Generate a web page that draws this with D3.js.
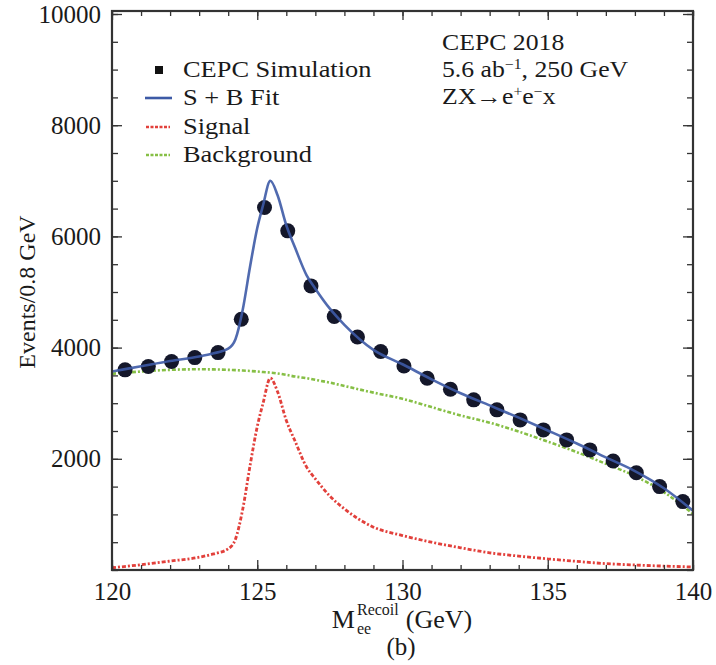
<!DOCTYPE html>
<html>
<head>
<meta charset="utf-8">
<script src="https://cdn.jsdelivr.net/npm/d3@7"></script>
<style>
  body { margin: 0; background: #fff; }
  svg text { font-family: "Liberation Serif", "Times New Roman", Times, serif; fill: #1a1a1a; }
</style>
</head>
<body>
<div class="chart"></div>
<script>
// simulated points (bin centres, events per 0.8 GeV)
const binCenters = [120.45, 121.25, 122.05, 122.85, 123.65, 124.45, 125.25, 126.05, 126.85, 127.65,
                    128.45, 129.25, 130.05, 130.85, 131.65, 132.45, 133.25, 134.05, 134.85, 135.65,
                    136.45, 137.25, 138.05, 138.85, 139.65];
const events = [3600, 3660, 3750, 3820, 3910, 4510, 6520, 6100, 5110, 4560,
                4190, 3930, 3670, 3450, 3250, 3060, 2880, 2700, 2520, 2340,
                2160, 1960, 1750, 1500, 1230];

// fitted curves
const curveMass = [120, 121, 122, 123, 123.5, 124, 124.25, 124.5, 124.75, 125, 125.2, 125.45, 125.7, 126,
                   126.3, 126.7, 127, 127.5, 128, 129, 130, 131, 132, 133, 134, 135, 136, 137, 138, 139, 140];
const fitCurve = [3570, 3665, 3760, 3840, 3898, 3980, 4150, 4680, 5450, 6150, 6560, 7000, 6740, 6200,
                  5800, 5300, 5060, 4700, 4410, 3960, 3700, 3430, 3180, 2960, 2740, 2510, 2275, 2025, 1780, 1470, 1065];
const signalCurve = [40, 95, 160, 230, 290, 380, 555, 1092, 1870, 2580, 3000, 3450, 3205, 2690,
                     2320, 1850, 1640, 1330, 1100, 770, 620, 500, 400, 310, 250, 200, 155, 115, 90, 70, 55];
const bkgCurve = [3530, 3570, 3600, 3610, 3608, 3600, 3595, 3588, 3580, 3570, 3560, 3550, 3535, 3510,
                  3480, 3450, 3420, 3370, 3310, 3190, 3080, 2930, 2780, 2650, 2490, 2310, 2120, 1910, 1690, 1400, 1010];

const xTicks = [120, 125, 130, 135, 140];
const yTicks = [2000, 4000, 6000, 8000, 10000];
const legendLabels = ["CEPC Simulation", "S + B Fit", "Signal", "Background"];

const W = 716, H = 665;
const plotL = 112, plotR = 693, plotT = 11, plotB = 570;
const serif = '"Liberation Serif", "Times New Roman", Times, serif';

const svg = d3.select(".chart").append("svg")
    .attr("width", W).attr("height", H)
    .attr("font-family", serif);

const xScale = d3.scaleLinear().domain([120, 140]).range([plotL, plotR]);
const yScale = d3.scaleLinear().domain([0, 10000]).range([plotB, 14]);

const plot = svg.append("g");
plot.append("clipPath").attr("id", "clip")
    .append("rect").attr("x", plotL).attr("y", plotT).attr("width", plotR - plotL).attr("height", plotB - plotT);

const line = (ys) => d3.line()
    .x((d, i) => xScale(curveMass[i]))
    .y((d, i) => yScale(ys[i]))
    .curve(d3.curveMonotoneX)(curveMass);

const colors = { fit: "#3d5aa6", sig: "#e2403b", bkg: "#86bf45" };

const curves = plot.append("g").attr("clip-path", "url(#clip)");
curves.append("path").attr("d", line(bkgCurve))
    .attr("fill", "none").attr("stroke", colors.bkg).attr("stroke-width", 2.6)
    .attr("stroke-dasharray", "4,2,2,2");
curves.append("path").attr("d", line(signalCurve))
    .attr("fill", "none").attr("stroke", colors.sig).attr("stroke-width", 2.8)
    .attr("stroke-dasharray", "4,2,2,2");

plot.selectAll("circle.pt")
    .data(binCenters)
    .enter()
    .append("circle")
    .attr("class", "pt")
    .attr("cx", d => xScale(d))
    .attr("cy", (d, i) => yScale(events[i]))
    .attr("r", 7.5)
    .attr("fill", "#14172a");

const fitG = plot.append("g").attr("clip-path", "url(#clip)");
fitG.append("path").attr("d", line(fitCurve))
    .attr("fill", "none").attr("stroke", colors.fit).attr("stroke-width", 2.6)
    .attr("stroke-opacity", 0.9);

// axes (ticks point inward on all four sides)
const xMinor = d3.range(120, 141, 1);
const yMinor = d3.range(0, 10001, 500);

function styleAxis(g) {
    g.select(".domain").remove();
    g.selectAll("line").attr("stroke", "#333").attr("stroke-width", 1.3);
    g.attr("font-family", serif).attr("font-size", null);
}

svg.append("g").attr("transform", `translate(0,${plotB})`)
    .call(d3.axisBottom(xScale).tickValues(xMinor).tickSize(-5).tickFormat("")).call(styleAxis);
svg.append("g").attr("transform", `translate(0,${plotB})`)
    .call(d3.axisBottom(xScale).tickValues(xTicks).tickSize(-10).tickPadding(12).tickFormat(d3.format("d")))
    .call(styleAxis)
    .selectAll("text").attr("font-size", 25).attr("fill", "#1a1a1a");
svg.append("g").attr("transform", `translate(0,${plotT})`)
    .call(d3.axisTop(xScale).tickValues(xMinor).tickSize(-5).tickFormat("")).call(styleAxis);
svg.append("g").attr("transform", `translate(0,${plotT})`)
    .call(d3.axisTop(xScale).tickValues(xTicks).tickSize(-9).tickFormat("")).call(styleAxis);

svg.append("g").attr("transform", `translate(${plotL},0)`)
    .call(d3.axisLeft(yScale).tickValues(yMinor).tickSize(-6).tickFormat("")).call(styleAxis);
svg.append("g").attr("transform", `translate(${plotL},0)`)
    .call(d3.axisLeft(yScale).tickValues(yTicks).tickSize(-10).tickPadding(11).tickFormat(d3.format("d")))
    .call(styleAxis)
    .selectAll("text").attr("font-size", 25).attr("fill", "#1a1a1a");
svg.append("g").attr("transform", `translate(${plotR},0)`)
    .call(d3.axisRight(yScale).tickValues(yMinor).tickSize(-6).tickFormat("")).call(styleAxis);
svg.append("g").attr("transform", `translate(${plotR},0)`)
    .call(d3.axisRight(yScale).tickValues(yTicks).tickSize(-10).tickFormat("")).call(styleAxis);

// frame
svg.append("rect")
    .attr("x", plotL).attr("y", plotT)
    .attr("width", plotR - plotL).attr("height", plotB - plotT)
    .attr("fill", "none").attr("stroke", "#333").attr("stroke-width", 2.2);

// y label
svg.append("text")
    .attr("transform", "translate(35,292) rotate(-90)")
    .attr("text-anchor", "middle")
    .attr("font-size", 24)
    .text("Events/0.8 GeV");

// x label with stacked sub/superscript
const xl = svg.append("g");
const mTxt = xl.append("text").attr("x", 0).attr("y", 628).attr("font-size", 26).text("M");
const mW = mTxt.node().getComputedTextLength();
const sup = xl.append("text").attr("x", mW + 2).attr("y", 615).attr("font-size", 16).text("Recoil");
xl.append("text").attr("x", mW + 2).attr("y", 634).attr("font-size", 16).text("ee");
const supW = sup.node().getComputedTextLength();
const unit = xl.append("text").attr("x", mW + supW + 9).attr("y", 628).attr("font-size", 26).text("(GeV)");
const totalW = mW + supW + 9 + unit.node().getComputedTextLength();
xl.attr("transform", `translate(${402 - totalW / 2},0)`);

svg.append("text")
    .attr("x", 401).attr("y", 655)
    .attr("text-anchor", "middle")
    .attr("font-size", 25)
    .text("(b)");

// legend
const legend = svg.append("g");
const rowY = [70, 98, 127, 155];
legend.append("rect").attr("x", 155).attr("y", rowY[0] - 4).attr("width", 8).attr("height", 8).attr("fill", "#111");
legend.append("line").attr("x1", 145).attr("x2", 172).attr("y1", rowY[1]).attr("y2", rowY[1])
    .attr("stroke", colors.fit).attr("stroke-width", 2.6);
legend.append("line").attr("x1", 146).attr("x2", 170).attr("y1", rowY[2]).attr("y2", rowY[2])
    .attr("stroke", colors.sig).attr("stroke-width", 2.6).attr("stroke-dasharray", "3,1.5");
legend.append("line").attr("x1", 146).attr("x2", 170).attr("y1", rowY[3]).attr("y2", rowY[3])
    .attr("stroke", colors.bkg).attr("stroke-width", 2.6).attr("stroke-dasharray", "3,1.5");
legend.selectAll(".legend-text")
    .data(legendLabels)
    .enter()
    .append("text")
    .attr("class", "legend-text")
    .attr("transform", (d, i) => `translate(183,${rowY[i] + 7}) scale(1.1,1)`)
    .attr("font-size", 24)
    .text(d => d);

// annotation, top right
const note = svg.append("g");
note.append("text").attr("transform", "translate(442,50) scale(1.12,1)")
    .attr("font-size", 23).text("CEPC 2018");
const n2 = note.append("text").attr("transform", "translate(442,77) scale(1.12,1)").attr("font-size", 23);
n2.append("tspan").text("5.6 ab");
n2.append("tspan").attr("dy", -8).attr("font-size", 14).text("\u22121");
n2.append("tspan").attr("dy", 8).text(", 250 GeV");
const n3 = note.append("text").attr("transform", "translate(442,104) scale(1.12,1)").attr("font-size", 23);
n3.append("tspan").text("ZX\u2192e");
n3.append("tspan").attr("dy", -8).attr("font-size", 14).text("+");
n3.append("tspan").attr("dy", 8).text("e");
n3.append("tspan").attr("dy", -8).attr("font-size", 14).text("\u2212");
n3.append("tspan").attr("dy", 8).text("x");
</script>
</body>
</html>
